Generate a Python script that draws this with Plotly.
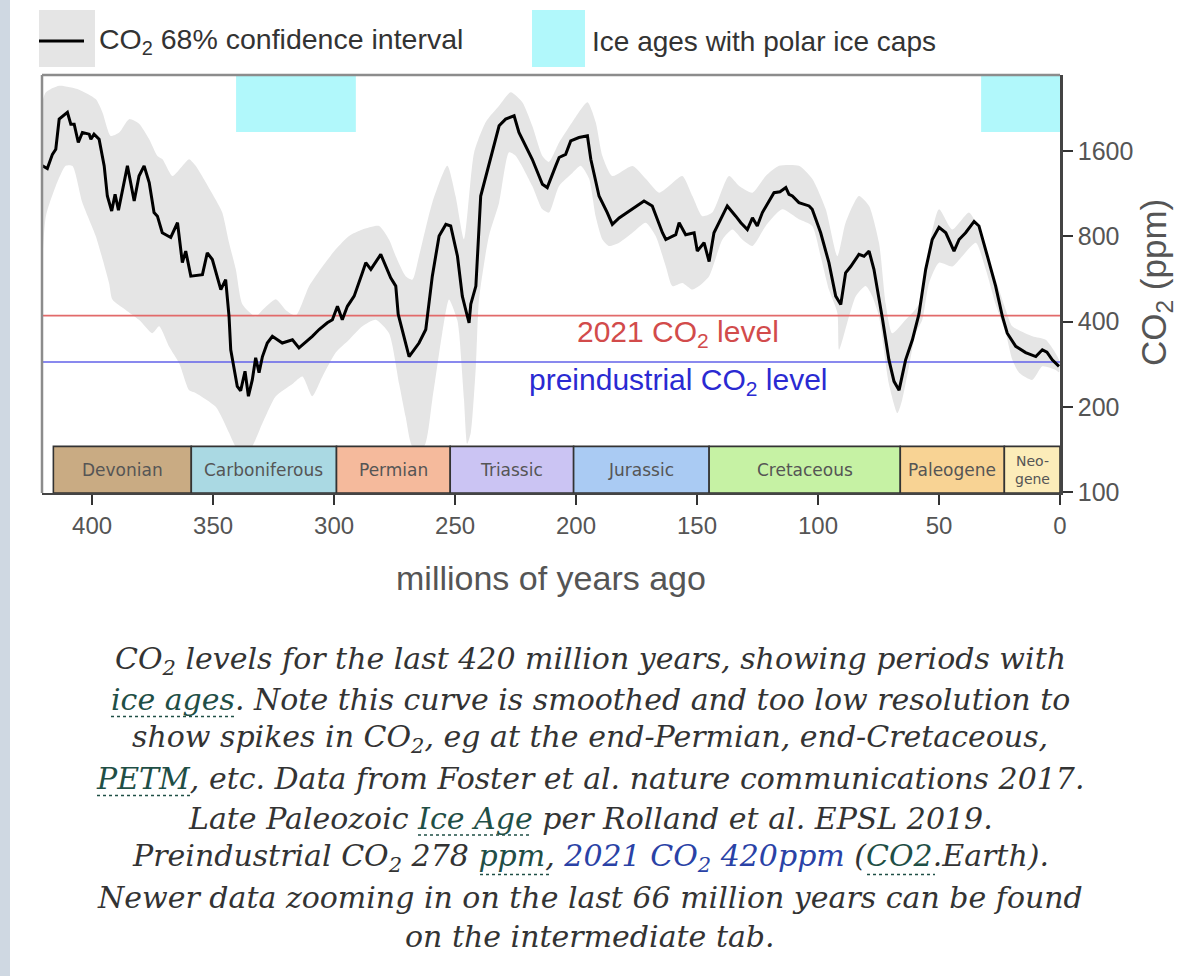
import math
import plotly.graph_objects as go

# ---------------- data ----------------
age = [420.5, 418.5, 416.4, 415.0, 413.6, 410.2, 408.8, 407.4, 405.7, 404.0, 401.2, 400.5, 399.2, 397.1,
       395.0, 393.7, 391.9, 390.5, 389.1, 385.4, 382.6, 380.6, 378.5, 376.4, 374.4, 373.0, 371.0, 367.5,
       364.7, 362.7, 361.3, 359.2, 354.4, 352.4, 350.3, 346.8, 344.8, 343.4, 342.7, 340.0, 338.6, 336.8,
       335.4, 333.8, 332.4, 331.0, 329.6, 327.6, 325.5, 321.4, 317.2, 314.5, 309.0, 306.2, 302.8, 300.7,
       298.6, 296.6, 294.5, 291.7, 288.3, 286.9, 284.8, 280.7, 276.6, 274.5, 273.5, 270.4, 269.0, 264.9,
       262.1, 259.4, 256.6, 253.8, 251.8, 249.0, 247.0, 244.9, 244.2, 243.5, 241.4, 239.4, 236.0, 231.8,
       229.1, 225.6, 223.6, 218.1, 213.9, 211.9, 208.4, 207.0, 204.3, 202.2, 198.8, 195.3, 193.9, 190.5,
       187.1, 185.0, 182.2, 178.1, 171.9, 168.5, 164.3, 162.9, 158.8, 157.4, 154.7, 151.2, 149.9, 147.1,
       145.0, 143.0, 140.9, 137.5, 134.0, 131.9, 129.2, 127.1, 125.1, 123.0, 118.2, 115.7, 113.3, 112.0,
       110.6, 107.9, 103.7, 102.4, 98.9, 95.5, 92.7, 90.6, 88.6, 86.5, 83.1, 81.0, 78.9, 76.9, 73.4, 70.7,
       68.6, 66.5, 63.8, 61.0, 58.3, 55.5, 52.8, 50.0, 47.2, 43.8, 41.7, 39.0, 35.5, 33.5, 30.0, 26.6,
       23.8, 21.8, 18.3, 14.2, 10.0, 7.3, 5.4, 3.2, 0.4]
co2 = [1420, 1390, 1560, 1626, 2077, 2193, 1994, 1994, 1717, 1863, 1838, 1764, 1838, 1764,
       1420, 1111, 984, 1127, 990, 1420, 1067, 1308, 1420, 1240, 971, 943, 824, 793,
       894, 646, 710, 579, 586, 700, 663, 519, 563, 417, 318, 236, 228, 267,
       218, 249, 298, 264, 301, 336, 355, 336, 345, 323, 355, 375, 396, 406,
       453, 406, 453, 492, 595, 646, 612, 691, 571, 534, 425, 336, 301, 336,
       375, 579, 803, 882, 871, 681, 492, 417, 396, 461, 534, 1111, 1420, 1967,
       2077, 2133, 1863, 1498, 1222, 1190, 1420, 1520, 1560, 1740, 1788, 1813, 1498, 1111,
       971, 882, 930, 984, 1067, 1025, 824, 780, 811, 894, 811, 824, 710, 760,
       652, 824, 894, 1025, 943, 894, 846, 930, 871, 971, 1142, 1150, 1190, 1127,
       1111, 1053, 1025, 997, 824, 646, 492, 460, 595, 626, 691, 681, 710, 612, 410, 293,
       246, 229, 293, 345, 425, 612, 780, 861, 824, 710, 780, 824, 904, 871, 681, 534,
       417, 364, 327, 311, 301, 318, 312, 293, 278]

# 68% confidence interval: upper edge
band_up_age = [421.1, 419.1, 413.6, 405.4, 398.5, 395.7, 392.3, 388.8, 384.7, 380.6, 376.4, 373.0, 370.9,
               366.8, 362.7, 359.9, 357.2, 353.0, 348.9, 346.2, 343.4, 340.6, 337.9, 332.4, 329.6, 324.1,
               320.0, 315.8, 310.3, 304.8, 299.3, 293.8, 288.3, 281.4, 277.3, 274.5, 270.4, 267.6, 264.9,
               259.4, 253.2, 249.8, 246.3, 242.1, 237.3, 231.8, 227.0, 222.2, 218.1, 213.9, 211.2, 207.0,
               201.5, 195.3, 191.9, 189.1, 185.0, 176.7, 171.2, 165.7, 161.6, 156.1, 151.9, 147.8, 143.7,
               136.8, 132.6, 127.1, 121.6, 116.1, 107.9, 102.4, 96.8, 92.0, 88.6, 83.1, 78.9, 74.8, 72.0,
               69.3, 63.8, 58.3, 54.1, 50.0, 44.5, 37.6, 33.5, 28.0, 22.4, 19.7, 11.4, 5.9, 0.4]
band_up = [2300, 2584, 2724, 2640, 2445, 2193, 1812, 1863, 2077, 2000, 1764, 1540, 1498,
           1308, 1419, 1498, 1420, 1240, 1077, 971, 760, 612, 461, 417, 440, 480,
           440, 420, 534, 626, 720, 803, 846, 871, 780, 681, 579, 563, 681,
           1053, 1420, 1111, 780, 1585, 2029, 2314, 2584, 2381, 1967, 1540, 1467, 1717,
           2029, 2381, 2029, 1540, 1308, 1419, 1278, 1142, 1206, 1308, 1111, 943, 971,
           1308, 1206, 1142, 1308, 1420, 1420, 1278, 997, 681, 894, 1111, 1025, 760, 461,
           364, 406, 461, 740, 997, 846, 971, 846, 612, 440, 385, 355, 345, 293]

# 68% confidence interval: lower edge
band_lo_age = [421.1, 419.1, 415.0, 410.9, 408.1, 404.0, 398.5, 393.0, 391.6, 386.1, 380.6, 375.1, 372.3,
               368.2, 364.0, 359.9, 357.2, 348.9, 343.4, 340.6, 335.1, 329.6, 324.1, 317.2, 313.1, 309.0,
               304.8, 299.3, 293.8, 288.3, 282.8, 277.3, 273.1, 270.4, 267.6, 262.8, 259.4, 255.3, 252.5,
               249.1, 248.3, 246.3, 245.0, 243.5, 241.4, 240.1, 236.0, 231.8, 227.7, 224.9, 218.1, 213.9,
               211.2, 207.0, 201.5, 198.1, 194.6, 191.9, 189.1, 186.4, 182.2, 176.7, 171.2, 167.1, 162.9,
               160.2, 156.1, 151.9, 149.2, 145.0, 139.5, 135.4, 131.3, 127.1, 121.6, 114.8, 107.9, 102.4,
               98.9, 95.5, 92.0, 91.3, 87.2, 84.4, 80.3, 77.6, 74.8, 70.7, 67.2, 65.2, 62.4, 59.6, 56.9,
               54.1, 50.0, 44.5, 40.4, 34.8, 30.7, 26.6, 22.4, 19.7, 16.9, 11.4, 7.3, 1.8, 0.4]
band_lo = [520, 943, 1206, 1420, 1419, 1053, 803, 548, 479, 440, 406, 364, 385,
           327, 285, 229, 224, 200, 162, 145, 140, 175, 218, 241, 256, 218,
           256, 311, 345, 385, 406, 364, 241, 184, 145, 145, 212, 364, 479,
           406, 364, 212, 148, 162, 278, 479, 803, 1053, 1585, 1540, 1206, 997,
           971, 1206, 1340, 1420, 1278, 943, 780, 740, 760, 824, 894, 803, 626,
           534, 548, 519, 534, 579, 780, 846, 780, 740, 871, 997, 919, 871,
           681, 519, 429, 318, 417, 492, 534, 492, 417, 241, 190, 212, 278, 364, 406,
           548, 646, 626, 681, 760, 612, 461, 364, 293, 264, 249, 278, 270, 265]

period_names = ["Devonian", "Carboniferous", "Permian", "Triassic", "Jurassic",
                "Cretaceous", "Paleogene", "Neo-<br>gene"]
period_start = [416, 359, 299, 252, 201, 145, 66, 23]
period_end = [359, 299, 252, 201, 145, 66, 23, 0]
period_colors = ["#c9ab83", "#aad9e3", "#f5ba9c", "#cbc4f3", "#aacbf3",
                 "#c6f2a4", "#f8d394", "#fcecb9"]

ice_start = [340.5, 32.6]
ice_end = [291.0, 0.0]

CO2_2021 = 420
CO2_PREIND = 288

x_ticks = [400, 350, 300, 250, 200, 150, 100, 50, 0]
y_ticks = [100, 200, 400, 800, 1600]

# ---------------- geometry / style ----------------
W, H = 1200, 976
L, R, T, B = 42, 1060, 75, 493
X_RANGE = [420.7, 0]
Y_MIN, Y_MAX = 99.2, 2974
Y_RANGE = [math.log10(Y_MIN), math.log10(Y_MAX)]
PERIOD_TOP = 145
ICE_BOTTOM = 1870

FONT = "Liberation Sans, Arial, sans-serif"
PERIOD_FONT = "DejaVu Sans, sans-serif"
CAP_FONT = "DejaVu Serif, Georgia, serif"


def pxx(x):
    return (x - L) / (R - L)


def pxy(y):
    return (B - y) / (B - T)


fig = go.Figure()

# ice ages
for s, e in zip(ice_start, ice_end):
    fig.add_trace(go.Scatter(x=[s, e, e, s, s], y=[ICE_BOTTOM, ICE_BOTTOM, Y_MAX, Y_MAX, ICE_BOTTOM],
                             mode="lines", fill="toself", fillcolor="#b1f8fb",
                             line=dict(width=0), hoverinfo="skip", showlegend=False))

# confidence band
fig.add_trace(go.Scatter(x=band_up_age + band_lo_age[::-1], y=band_up + band_lo[::-1],
                         mode="lines", fill="toself", fillcolor="#e5e5e5",
                         line=dict(width=0, shape="spline", smoothing=0.6),
                         hoverinfo="skip", showlegend=False))

# reference lines
fig.add_trace(go.Scatter(x=X_RANGE, y=[CO2_2021, CO2_2021], mode="lines",
                         line=dict(color="#e26a6a", width=1.6), hoverinfo="skip", showlegend=False))
fig.add_trace(go.Scatter(x=X_RANGE, y=[CO2_PREIND, CO2_PREIND], mode="lines",
                         line=dict(color="#6262e8", width=1.6), hoverinfo="skip", showlegend=False))

# CO2 curve
fig.add_trace(go.Scatter(x=age, y=co2, mode="lines", line=dict(color="black", width=3),
                         showlegend=False))

# geological periods
for s, e, c in zip(period_start, period_end, period_colors):
    fig.add_trace(go.Scatter(x=[s, e, e, s, s], y=[Y_MIN, Y_MIN, PERIOD_TOP, PERIOD_TOP, Y_MIN],
                             mode="lines", fill="toself", fillcolor=c,
                             line=dict(color="#333333", width=1.6), hoverinfo="skip", showlegend=False))

annotations = []
for name, s, e in zip(period_names, period_start, period_end):
    annotations.append(dict(x=(s + e) / 2, y=math.log10(math.sqrt(Y_MIN * PERIOD_TOP)),
                            xref="x", yref="y", text=name, showarrow=False,
                            font=dict(family=PERIOD_FONT, size=17 if "<br>" not in name else 14,
                                      color="#555555"),
                            xanchor="center", yanchor="middle"))

# reference-line labels
annotations.append(dict(x=pxx(678), y=pxy(333), xref="paper", yref="paper",
                        text="2021 CO<sub>2</sub> level", showarrow=False,
                        font=dict(family=FONT, size=30, color="#d24b4b"),
                        xanchor="center", yanchor="middle"))
annotations.append(dict(x=pxx(678), y=pxy(381), xref="paper", yref="paper",
                        text="preindustrial CO<sub>2</sub> level", showarrow=False,
                        font=dict(family=FONT, size=30, color="#2a2ad2"),
                        xanchor="center", yanchor="middle"))

# axis titles
annotations.append(dict(x=pxx(551), y=pxy(578), xref="paper", yref="paper",
                        text="millions of years ago", showarrow=False,
                        font=dict(family=FONT, size=34, color="#555555"),
                        xanchor="center", yanchor="middle"))
annotations.append(dict(x=pxx(1156), y=pxy(283), xref="paper", yref="paper",
                        text="CO<sub>2</sub> (ppm)", showarrow=False, textangle=-90,
                        font=dict(family=FONT, size=35, color="#555555"),
                        xanchor="center", yanchor="middle"))

# legend texts
annotations.append(dict(x=pxx(97), y=pxy(41), xref="paper", yref="paper",
                        text="CO<sub>2</sub> 68% confidence interval", showarrow=False,
                        font=dict(family=FONT, size=28.5, color="#333333"),
                        xanchor="left", yanchor="middle"))
annotations.append(dict(x=pxx(590), y=pxy(42), xref="paper", yref="paper",
                        text="Ice ages with polar ice caps", showarrow=False,
                        font=dict(family=FONT, size=28, color="#333333"),
                        xanchor="left", yanchor="middle"))

# caption
TEAL = "#1f4f46"
BLUE = "#2a42a6"
caption_lines = [
    "CO<sub>2</sub> levels for the last 420 million years, showing periods with",
    f"<span style='color:{TEAL}'>ice ages</span>. Note this curve is smoothed and too low resolution to",
    "show spikes in CO<sub>2</sub>, eg at the end-Permian, end-Cretaceous,",
    f"<span style='color:{TEAL}'>PETM</span>, etc. Data from Foster et al. nature communications 2017.",
    f"Late Paleozoic <span style='color:{TEAL}'>Ice Age</span> per Rolland et al. EPSL 2019.",
    f"Preindustrial CO<sub>2</sub> 278 <span style='color:{TEAL}'>ppm</span>, "
    f"<span style='color:{BLUE}'>2021 CO<sub>2</sub> 420ppm</span> (<span style='color:{TEAL}'>CO2</span>.Earth).",
    "Newer data zooming in on the last 66 million years can be found",
    "on the intermediate tab.",
]
caption_y = [660 + 39.5 * i for i in range(len(caption_lines))]
for txt, yy in zip(caption_lines, caption_y):
    annotations.append(dict(x=pxx(590), y=pxy(yy), xref="paper", yref="paper", text=txt,
                            showarrow=False,
                            font=dict(family=CAP_FONT, size=30, color="#333333", style="italic"),
                            xanchor="center", yanchor="middle"))

# dotted underlines of the linked words (line index, left px, right px)
link_lines = [(1, 111, 234), (3, 97, 190), (4, 418, 532), (5, 480, 550), (5, 867, 935)]

shapes = [
    # left page stripe
    dict(type="rect", xref="paper", yref="paper", x0=pxx(0), x1=pxx(10), y0=pxy(H), y1=pxy(0),
         fillcolor="#cfd8e2", line=dict(width=0), layer="below"),
    # frame top and left (grey)
    dict(type="line", xref="paper", yref="paper", x0=pxx(L), x1=pxx(R), y0=1, y1=1,
         line=dict(color="#8c8c8c", width=2.5)),
    dict(type="line", xref="paper", yref="paper", x0=0, x1=0, y0=0, y1=1,
         line=dict(color="#8c8c8c", width=2.5)),
    # legend swatches
    dict(type="rect", xref="paper", yref="paper", x0=pxx(39), x1=pxx(95), y0=pxy(67), y1=pxy(10),
         fillcolor="#e5e5e5", line=dict(width=0)),
    dict(type="line", xref="paper", yref="paper", x0=pxx(39), x1=pxx(84), y0=pxy(41), y1=pxy(41),
         line=dict(color="black", width=3)),
    dict(type="rect", xref="paper", yref="paper", x0=pxx(532), x1=pxx(585), y0=pxy(67), y1=pxy(10),
         fillcolor="#b1f8fb", line=dict(width=0)),
]
for li, x0, x1 in link_lines:
    yy = caption_y[li] + 17
    shapes.append(dict(type="line", xref="paper", yref="paper", x0=pxx(x0), x1=pxx(x1),
                       y0=pxy(yy), y1=pxy(yy), line=dict(color=TEAL, width=1.3, dash="dot")))

fig.update_layout(
    width=W, height=H, autosize=False,
    margin=dict(l=L, r=W - R, t=T, b=H - B, pad=0),
    paper_bgcolor="white", plot_bgcolor="white",
    showlegend=False,
    xaxis=dict(range=X_RANGE, tickvals=x_ticks, ticktext=[str(v) for v in x_ticks],
               ticks="outside", ticklen=10, tickwidth=2, tickcolor="#333333",
               tickfont=dict(family=FONT, size=24, color="#555555"),
               showgrid=False, zeroline=False, showline=True, linecolor="#444444", linewidth=2),
    yaxis=dict(type="log", range=Y_RANGE, side="right", tickvals=y_ticks,
               ticktext=[str(v) for v in y_ticks],
               ticks="outside", ticklen=10, tickwidth=2, tickcolor="#333333",
               tickfont=dict(family=FONT, size=25, color="#555555"),
               showgrid=False, zeroline=False, showline=True, linecolor="#444444", linewidth=2.5),
    annotations=annotations,
    shapes=shapes,
)

fig.write_html("out.html", config={"displayModeBar": False},
               post_script="document.body.style.margin='0px';document.body.style.overflow='hidden';")
